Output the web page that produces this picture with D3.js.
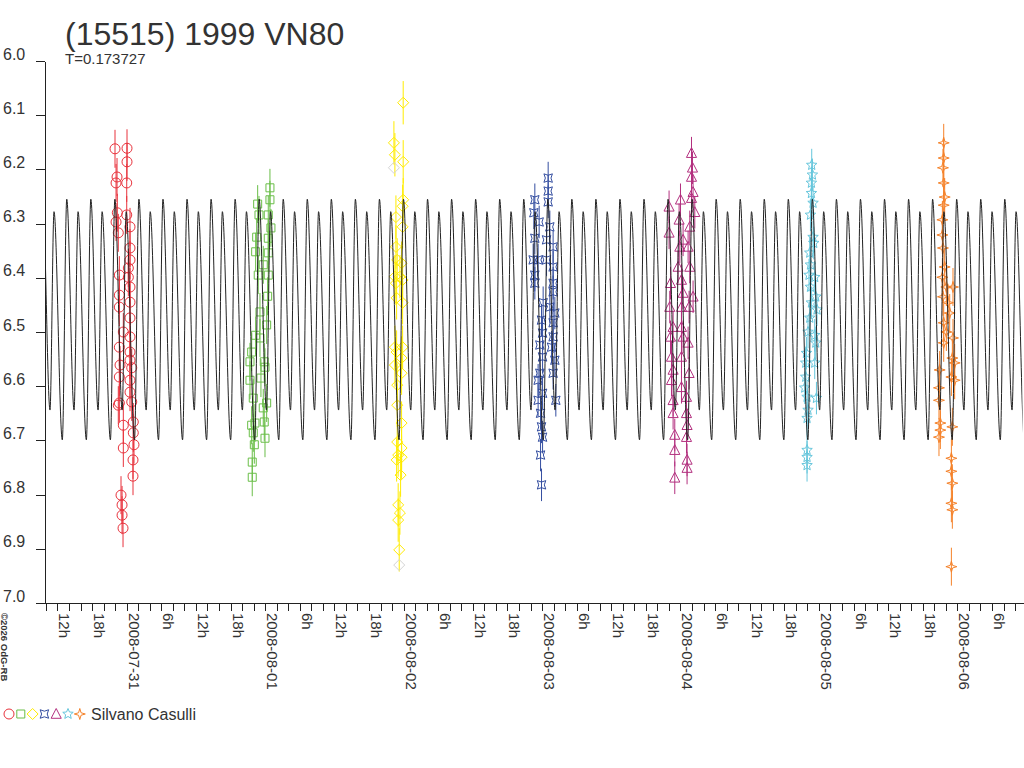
<!DOCTYPE html>
<html>
<head>
<meta charset="utf-8">
<script src="https://cdn.jsdelivr.net/npm/d3@7"></script>
<style>
body { margin: 0; background: #fff; }
svg text { font-family: "Liberation Sans", Arial, sans-serif; }
</style>
</head>
<body>
<div class="canvas"></div>
<script>
// chart data
const title = "(15515) 1999 VN80";
const periodDays = 0.173727;
const observer = "Silvano Casulli";

// one period of the fitted lightcurve, phase 0 = primary maximum
const lcPhase = [0, 0.303, 0.47, 0.815, 1];
const lcMag = [6.255, 6.644, 6.278, 6.699, 6.255];
const lcEpoch = "2008-07-31T06:17:00Z";

const xStart = "2008-07-30T09:50:00Z";
const xEnd = "2008-08-06T11:33:00Z";
const yTicks = [6.0, 6.1, 6.2, 6.3, 6.4, 6.5, 6.6, 6.7, 6.8, 6.9, 7.0];

// one night per series: date of the midnight, hours relative to it
const nights = ["2008-07-31", "2008-08-01", "2008-08-02", "2008-08-03", "2008-08-04", "2008-08-05", "2008-08-06"];
const colors = ["#e8323c", "#6abe48", "#ffec00", "#344ea0", "#b3307f", "#66c6dc", "#f5822a"];
const markers = ["circle", "square", "diamond", "bowtie", "triangle", "star", "spark"];
const errs = [0.035, 0.035, 0.04, 0.03, 0.03, 0.03, 0.035];

const obsRed = [[-2.03,6.162],[0.05,6.161],[0.05,6.186],[-1.68,6.214],[-1.85,6.225],[0.0,6.225],[-1.63,6.280],[0.0,6.284],
  [-1.85,6.297],[0.57,6.306],[-1.46,6.317],[0.57,6.345],[0.57,6.367],[0.28,6.382],[-1.28,6.395],[0.28,6.399],[0.57,6.417],
  [-1.28,6.432],[0.57,6.445],[-1.28,6.454],[0.57,6.474],[-0.59,6.500],[0.57,6.509],[-1.28,6.528],[0.57,6.537],[0.57,6.552],
  [-1.16,6.561],[0.87,6.566],[-1.28,6.583],[0.57,6.589],[0.57,6.611],[-1.28,6.631],[0.87,6.629],[-1.46,6.635],[-0.59,6.672],
  [1.14,6.666],[1.14,6.686],[-0.59,6.714],[1.26,6.708],[1.09,6.736],[1.09,6.766],[-0.99,6.801],[-0.81,6.819],[-0.81,6.838],[-0.64,6.862]];
const obsGreen = [[0.83,6.234],[0.83,6.256],[-1.30,6.264],[-1.07,6.284],[0.54,6.284],[1.00,6.308],[-1.47,6.325],[0.54,6.327],
  [-1.65,6.352],[0.54,6.354],[-0.33,6.376],[-1.20,6.395],[0.54,6.395],[0.43,6.434],[-0.90,6.463],[0.26,6.487],[-1.65,6.506],
  [-0.90,6.511],[-2.34,6.537],[-2.63,6.555],[-0.16,6.555],[-0.03,6.565],[-0.73,6.585],[-2.63,6.589],[-2.06,6.622],[0.26,6.631],
  [-0.33,6.640],[-2.34,6.672],[-1.77,6.668],[-0.16,6.666],[-2.06,6.686],[-0.03,6.696],[-1.88,6.708],[-2.24,6.740],[-2.24,6.768]];
const obsYellow = [[-0.07,6.077],[-1.68,6.151],[-1.51,6.173],[-0.07,6.186],[-0.07,6.256],[-0.17,6.268],[-1.33,6.288],[-0.17,6.306],
  [-1.33,6.343],[-1.11,6.367],[-0.35,6.373],[-1.51,6.398],[-0.64,6.398],[-0.17,6.404],[-1.33,6.410],[-1.21,6.437],[-0.17,6.446],
  [-1.51,6.528],[-0.17,6.528],[-1.21,6.537],[-0.35,6.548],[-1.51,6.561],[-0.35,6.576],[-1.11,6.598],[-1.11,6.635],[-0.35,6.668],
  [-1.11,6.703],[-0.35,6.714],[-0.94,6.727],[-1.21,6.736],[-0.35,6.731],[-0.52,6.764],[-0.94,6.819],[-0.64,6.834],[-0.94,6.847],[-0.76,6.902]];
const obsBlue = [[1.06,6.216],[1.06,6.240],[-1.25,6.256],[1.06,6.260],[-1.42,6.280],[-0.50,6.297],[1.35,6.306],[-1.25,6.327],
  [0.78,6.330],[1.92,6.343],[-1.54,6.367],[-0.68,6.367],[0.78,6.367],[1.92,6.380],[-1.25,6.395],[-1.25,6.410],[1.92,6.410],
  [1.92,6.426],[0.19,6.446],[1.35,6.454],[2.22,6.465],[-0.09,6.478],[1.92,6.483],[0.09,6.502],[1.92,6.509],[-0.38,6.524],
  [1.65,6.528],[0.09,6.546],[2.22,6.552],[-0.38,6.576],[1.92,6.576],[-0.68,6.589],[0.09,6.613],[2.39,6.626],[-0.68,6.626],
  [-0.26,6.650],[-0.09,6.675],[0.09,6.694],[-0.26,6.727],[-0.09,6.782]];
const obsMagenta = [[1.91,6.170],[2.08,6.197],[1.91,6.214],[2.18,6.242],[-1.98,6.269],[0.00,6.256],[1.91,6.253],[-0.24,6.293],
  [2.48,6.279],[1.61,6.306],[-1.98,6.317],[0.45,6.330],[-0.12,6.343],[1.32,6.343],[-0.42,6.380],[1.61,6.380],[-1.73,6.410],
  [0.17,6.404],[0.45,6.428],[2.18,6.435],[-1.86,6.454],[0.17,6.454],[1.49,6.454],[-1.28,6.491],[0.17,6.491],[-1.73,6.509],
  [0.45,6.509],[1.32,6.520],[-1.56,6.546],[0.17,6.546],[-1.28,6.570],[1.49,6.576],[-1.56,6.589],[0.17,6.602],[1.04,6.620],
  [-1.28,6.626],[-1.28,6.650],[1.04,6.650],[1.14,6.672],[-0.99,6.690],[1.04,6.694],[-0.99,6.718],[1.14,6.736],[1.14,6.751],[-0.99,6.769]];
const obsCyan = [[-1.25,6.192],[-1.13,6.210],[-1.30,6.225],[-1.30,6.244],[-1.02,6.262],[-1.47,6.284],[-1.02,6.325],[-0.90,6.336],
  [-1.59,6.354],[-1.47,6.376],[-1.72,6.395],[-0.73,6.399],[-1.47,6.417],[-0.55,6.435],[-1.30,6.446],[-0.33,6.459],[-1.59,6.474],
  [-1.89,6.500],[-0.73,6.506],[-0.55,6.520],[-2.17,6.539],[-2.29,6.557],[-0.73,6.557],[-2.29,6.583],[-2.46,6.603],[-2.06,6.620],
  [-0.43,6.622],[-1.89,6.644],[-2.06,6.659],[-2.06,6.718],[-2.06,6.731],[-2.06,6.746]];
const obsOrange = [[-2.37,6.151],[-2.37,6.179],[-2.50,6.197],[-2.37,6.225],[-2.20,6.251],[-2.37,6.266],[-2.60,6.293],[-2.60,6.321],
  [-2.50,6.345],[-2.20,6.380],[-2.60,6.399],[-1.91,6.417],[-0.76,6.417],[-2.50,6.435],[-1.63,6.446],[-1.33,6.465],[-2.37,6.483],
  [-1.91,6.500],[-0.76,6.511],[-2.37,6.520],[-0.87,6.548],[-0.47,6.557],[-3.07,6.570],[-1.04,6.583],[-0.47,6.589],[-3.19,6.603],
  [-3.19,6.626],[-2.95,6.668],[-2.95,6.681],[-3.19,6.694],[-0.87,6.675],[-1.04,6.733],[-1.04,6.757],[-0.87,6.779],[-1.04,6.816],
  [-0.87,6.828],[-1.04,6.933]];
// rejected points drawn in light grey
const greyNight = "2008-08-02";
const obsGrey = [[-1.68,6.197],[-0.76,6.930]];

const seriesObs = [obsRed, obsGreen, obsYellow, obsBlue, obsMagenta, obsCyan, obsOrange];

// marker shapes, size = radius in px
function poly(c, pts) {
    c.moveTo(pts[0][0], pts[0][1]);
    for (let i = 1; i < pts.length; i++) c.lineTo(pts[i][0], pts[i][1]);
    c.closePath();
}
function starPts(n, r, r2, rot) {
    const p = [];
    for (let i = 0; i < 2 * n; i++) {
        const a = rot + i * Math.PI / n, rr = i % 2 ? r2 : r;
        p.push([rr * Math.sin(a), -rr * Math.cos(a)]);
    }
    return p;
}
const shapes = {
    circle: { draw(c, r) { c.moveTo(r, 0); c.arc(0, 0, r, 0, 2 * Math.PI); } },
    square: { draw(c, r) { c.rect(-r, -r, 2 * r, 2 * r); } },
    diamond: { draw(c, r) { poly(c, [[0, -r], [r, 0], [0, r], [-r, 0]]); } },
    bowtie: { draw(c, r) { poly(c, starPts(4, r * 1.5, r * 0.7, Math.PI / 4)); } },
    triangle: { draw(c, r) { poly(c, [[0, -r], [r * 0.92, r * 0.78], [-r * 0.92, r * 0.78]]); } },
    star: { draw(c, r) { poly(c, starPts(5, r, r * 0.45, 0)); } },
    spark: { draw(c, r) { poly(c, starPts(4, r, r * 0.32, 0)); } }
};
const markerSize = { circle: 5, square: 4, diamond: 5.5, bowtie: 4, triangle: 5.5, star: 5.5, spark: 5.5 };

// svg
const svg = d3.select(".canvas").append("svg").attr("width", 1024).attr("height", 768);

const x = d3.scaleUtc().domain([new Date(xStart), new Date(xEnd)]).range([45, 1024]);
const y = d3.scaleLinear().domain([6, 7]).range([61, 603]);

const when = (night, h) => new Date(Date.parse(night + "T00:00:00Z") + h * 3600e3);

// title
svg.append("text")
    .attr("x", 65).attr("y", 45)
    .attr("font-size", "32px").attr("fill", "#333")
    .text(title);
svg.append("text")
    .attr("x", 65).attr("y", 64)
    .attr("font-size", "15px").attr("fill", "#333")
    .text("T=" + periodDays);

// y axis
const yAxis = svg.append("g")
    .attr("transform", "translate(45,0)")
    .call(d3.axisLeft(y).tickValues(yTicks).tickSize(9).tickSizeOuter(0).tickFormat(d3.format(".1f")));
yAxis.selectAll("text")
    .attr("x", -42).attr("dy", -2)
    .attr("text-anchor", "start")
    .attr("font-size", "16px").attr("fill", "#333");

// x axis
const hourFmt = d => {
    const h = d.getUTCHours();
    if (h === 0) return d3.utcFormat("%Y-%m-%d")(d);
    return h % 6 === 0 ? h + "h" : "";
};
const xAxis = svg.append("g")
    .attr("transform", "translate(0,603)")
    .call(d3.axisBottom(x).ticks(d3.utcHour.every(2)).tickSize(8).tickSizeOuter(0).tickFormat(hourFmt));
xAxis.selectAll("text")
    .attr("transform", "rotate(90)")
    .attr("x", 10).attr("y", -1.5).attr("dy", 0)
    .attr("text-anchor", "start")
    .attr("font-size", "15px").attr("fill", "#333");

svg.selectAll(".domain, .tick line")
    .attr("stroke", "#222")
    .attr("shape-rendering", "crispEdges");

// copyright
svg.append("text")
    .attr("transform", "translate(1,613) rotate(90)")
    .attr("font-size", "9.5px").attr("font-weight", "bold").attr("fill", "#333")
    .text("\u00a92026 OdG-RB");

// observations
const dataG = svg.append("g");
seriesObs.forEach((obs, s) => {
    const g = dataG.append("g");
    const sym = d3.symbol().type(shapes[markers[s]]).size(markerSize[markers[s]]);
    g.selectAll("line")
        .data(obs)
        .join("line")
        .attr("x1", d => x(when(nights[s], d[0])))
        .attr("x2", d => x(when(nights[s], d[0])))
        .attr("y1", d => y(d[1] - errs[s]))
        .attr("y2", d => y(d[1] + errs[s]))
        .attr("stroke", colors[s])
        .attr("stroke-width", 1);
    g.selectAll("path")
        .data(obs)
        .join("path")
        .attr("d", sym)
        .attr("transform", d => `translate(${x(when(nights[s], d[0]))},${y(d[1])})`)
        .attr("fill", "none")
        .attr("stroke", colors[s])
        .attr("stroke-width", 1);
});
dataG.append("g").selectAll("path")
    .data(obsGrey)
    .join("path")
    .attr("d", d3.symbol().type(shapes.diamond).size(5.5))
    .attr("transform", d => `translate(${x(when(greyNight, d[0]))},${y(d[1])})`)
    .attr("fill", "none")
    .attr("stroke", "#d4d4d4");

// fitted lightcurve, unfolded over the period
const t0 = Date.parse(lcEpoch), pMs = periodDays * 864e5;
const k0 = Math.floor((Date.parse(xStart) - t0) / pMs) - 1;
const k1 = Math.ceil((Date.parse(xEnd) - t0) / pMs) + 1;
const lc = [];
for (let k = k0; k <= k1; k++) {
    lcPhase.slice(0, -1).forEach((ph, i) => lc.push([new Date(t0 + (k + ph) * pMs), lcMag[i]]));
}
svg.append("clipPath").attr("id", "plotclip")
    .append("rect").attr("x", 45.5).attr("y", 0).attr("width", 977).attr("height", 603);
svg.append("path")
    .datum(lc)
    .attr("clip-path", "url(#plotclip)")
    .attr("fill", "none")
    .attr("stroke", "#222")
    .attr("stroke-width", 1)
    .attr("d", d3.line().x(d => x(d[0])).y(d => y(d[1])).curve(d3.curveMonotoneX));

// legend
const legend = svg.append("g").attr("transform", "translate(0,714)");
markers.forEach((m, s) => {
    legend.append("path")
        .attr("d", d3.symbol().type(shapes[m]).size(markerSize[m]))
        .attr("transform", `translate(${9 + s * 11.8},0)`)
        .attr("fill", "none")
        .attr("stroke", colors[s]);
});
legend.append("text")
    .attr("x", 91).attr("y", 6)
    .attr("font-size", "16px").attr("fill", "#333")
    .text(observer);
</script>
</body>
</html>
